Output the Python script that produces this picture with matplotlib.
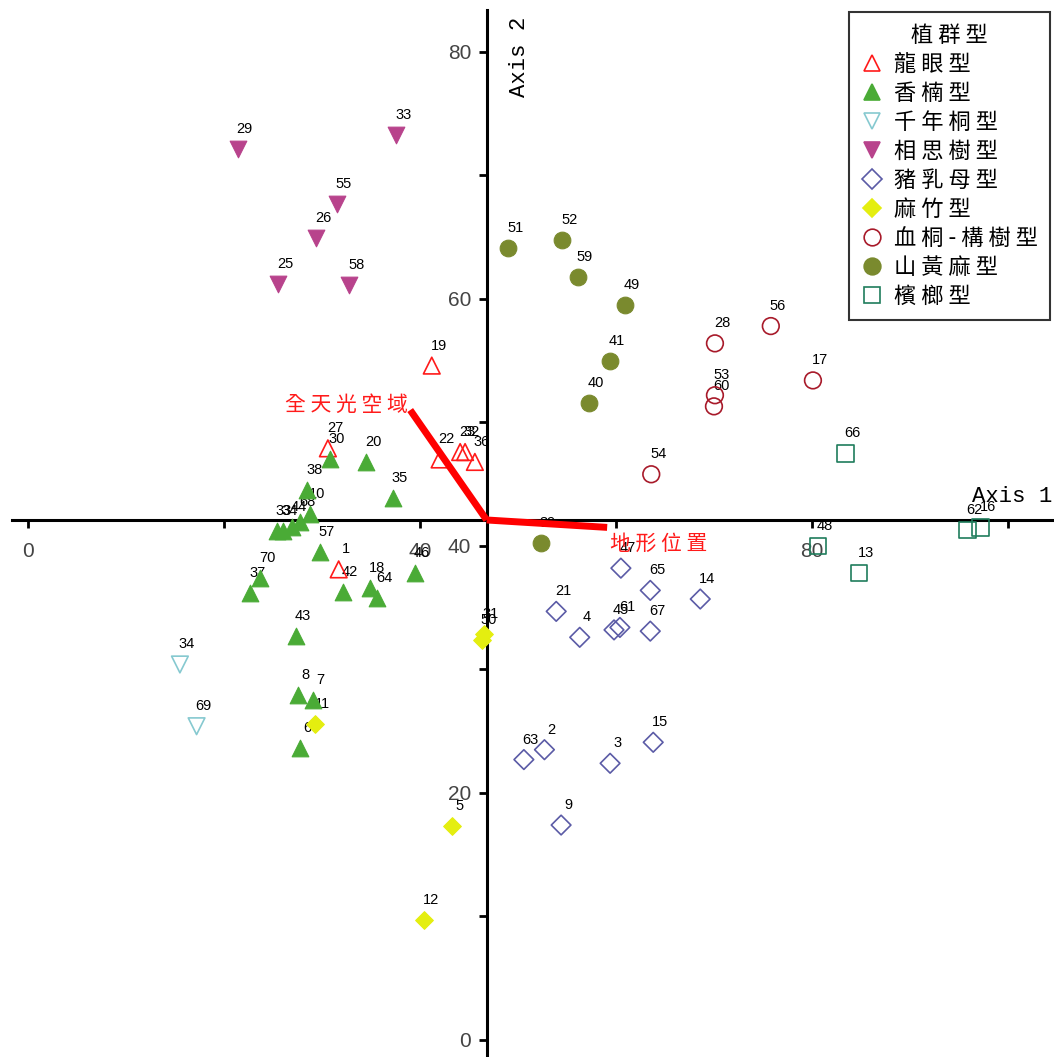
import matplotlib
matplotlib.use('Agg')
import matplotlib.pyplot as plt
from matplotlib.lines import Line2D

plt.rcParams['font.family'] = ['Liberation Sans', 'Noto Sans CJK TC', 'DejaVu Sans']

# ---- ordination scores, one list per vegetation type ----
longan_x = [41.2, 30.6, 42.0, 44.1, 44.6, 45.6, 31.7]
longan_y = [54.6, 47.9, 47.0, 47.6, 47.6, 46.8, 38.1]
longan_id = ['19', '27', '22', '23', '32', '36', '1']

machilus_x = [30.8, 34.5, 28.5, 28.8, 27.8, 25.4, 26.0, 26.9, 37.2, 29.8, 23.7, 22.7,
              32.1, 34.9, 35.6, 39.5, 27.3, 27.6, 29.1, 27.8]
machilus_y = [47.0, 46.8, 44.5, 42.6, 41.9, 41.2, 41.2, 41.5, 43.9, 39.5, 37.4, 36.2,
              36.3, 36.6, 35.8, 37.8, 32.7, 27.9, 27.5, 23.6]
machilus_id = ['30', '20', '38', '10', '68', '33', '34', '44', '35', '57', '70', '37',
               '42', '18', '64', '46', '43', '8', '7', '6']

tung_x = [15.5, 17.2]
tung_y = [30.4, 25.4]
tung_id = ['34', '69']

acacia_x = [21.4, 37.6, 31.5, 29.4, 25.5, 32.8]
acacia_y = [72.1, 73.3, 67.7, 64.9, 61.2, 61.1]
acacia_id = ['29', '33', '55', '26', '25', '58']

ficus_x = [60.5, 63.5, 68.6, 53.9, 56.3, 59.8, 60.4, 63.5, 63.8, 50.6, 52.7, 59.4, 54.4]
ficus_y = [38.2, 36.4, 35.7, 34.7, 32.6, 33.2, 33.4, 33.1, 24.1, 22.7, 23.5, 22.4, 17.4]
ficus_id = ['47', '65', '14', '21', '4', '45', '61', '67', '15', '63', '2', '3', '9']

bamboo_x = [29.3, 46.5, 46.3, 43.3, 40.4]
bamboo_y = [25.6, 32.9, 32.4, 17.3, 9.7]
bamboo_id = ['11', '31', '50', '5', '12']

macaranga_x = [75.8, 70.1, 80.1, 70.1, 70.0, 63.6]
macaranga_y = [57.8, 56.4, 53.4, 52.2, 51.3, 45.8]
macaranga_id = ['56', '28', '17', '53', '60', '54']

trema_x = [49.0, 54.5, 56.1, 60.9, 59.4, 57.2, 52.3]
trema_y = [64.1, 64.8, 61.8, 59.5, 55.0, 51.6, 40.2]
trema_id = ['51', '52', '59', '49', '41', '40', '39']

areca_x = [83.4, 80.6, 84.8, 95.9, 97.2]
areca_y = [47.5, 40.0, 37.8, 41.3, 41.5]
areca_id = ['66', '48', '13', '62', '16']

# environmental vectors (start at the centroid)
centroid = (46.8, 42.1)
vec_names = ['全天光空域', '地形位置']
vec_end_x = [39.0, 59.1]
vec_end_y = [51.0, 41.5]
vec_label_x = [32.5, 64.4]
vec_label_y = [51.4, 40.2]

groups = [
    ('龍眼型', longan_x, longan_y, longan_id, '^', '#ff1a1a', False, 12),
    ('香楠型', machilus_x, machilus_y, machilus_id, '^', '#4aab36', True, 12),
    ('千年桐型', tung_x, tung_y, tung_id, 'v', '#86c9d0', False, 12),
    ('相思樹型', acacia_x, acacia_y, acacia_id, 'v', '#b8438c', True, 12),
    ('豬乳母型', ficus_x, ficus_y, ficus_id, 'D', '#5b5ba6', False, 10),
    ('麻竹型', bamboo_x, bamboo_y, bamboo_id, 'D', '#e4ee10', True, 9),
    ('血桐-構樹型', macaranga_x, macaranga_y, macaranga_id, 'o', '#a81a2a', False, 12),
    ('山黃麻型', trema_x, trema_y, trema_id, 'o', '#7a8a2e', True, 12),
    ('檳榔型', areca_x, areca_y, areca_id, 's', '#1f7d5c', False, 12),
]

cjk = ['Noto Sans CJK TC', 'DejaVu Sans']


def spaced(s):
    # the original chart has wide gaps between the characters
    return ' '.join(s)


fig = plt.figure(figsize=(10.54, 10.57), dpi=100)
ax = fig.add_axes([0, 0, 1, 1])
ax.set_xlim(-2.86, 104.7)
ax.set_ylim(-1.38, 84.2)

# axes cross at the centroid
for s in ['top', 'right']:
    ax.spines[s].set_visible(False)
ax.spines['left'].set_position(('data', centroid[0]))
ax.spines['bottom'].set_position(('data', centroid[1]))
ax.spines['left'].set_bounds(-1.38, 83.4)
ax.spines['bottom'].set_bounds(-1.6, 104.7)
ax.spines['left'].set_linewidth(2.2)
ax.spines['bottom'].set_linewidth(2.2)

ax.set_xticks([0, 20, 40, 60, 80, 100])
ax.set_xticklabels(['0', '', '40', '', '80', ''])
ax.set_yticks(list(range(0, 81, 10)))
ax.set_yticklabels(['0', '', '20', '', '40', '', '60', '', '80'])
ax.tick_params(direction='out', length=6, width=2, labelsize=15, colors='black')
ax.tick_params(axis='x', pad=10)
ax.tick_params(axis='y', pad=5)
for t in ax.get_xticklabels() + ax.get_yticklabels():
    t.set_color('#444444')

handles = []
for name, xs, ys, ids, mk, col, filled, ms in groups:
    if filled:
        ax.scatter(xs, ys, marker=mk, s=ms ** 2, c=col, edgecolors=col, linewidths=0.8, zorder=4)
    else:
        ax.scatter(xs, ys, marker=mk, s=ms ** 2, facecolors='none', edgecolors=col, linewidths=1.2, zorder=4)
    for x, y, lab in zip(xs, ys, ids):
        ax.annotate(lab, (x, y), xytext=(7, 20), textcoords='offset pixels',
                    fontsize=10.5, ha='center', va='center', color='black', zorder=3)
    handles.append(Line2D([], [], linestyle='none', marker=mk, markersize=ms,
                          markerfacecolor=col if filled else 'none',
                          markeredgecolor=col, markeredgewidth=1.2, label=spaced(name)))

# red vectors
for name, ex, ey, lx, ly in zip(vec_names, vec_end_x, vec_end_y, vec_label_x, vec_label_y):
    ax.plot([centroid[0], ex], [centroid[1], ey], color='#ff0000', lw=5,
            solid_capstyle='butt', zorder=5)
    ax.text(lx, ly, spaced(name), color='#ff1a1a', fontsize=15, ha='center', va='center',
            family=cjk, zorder=6)

ax.text(100.4, 44.0, 'Axis 1', fontsize=16, family='Liberation Mono', ha='center', va='center')
ax.text(50.2, 79.6, 'Axis 2', fontsize=16, family='Liberation Mono', rotation=90,
        ha='center', va='center')

leg = ax.legend(handles=handles, title=spaced('植群型'), loc='upper right',
                bbox_to_anchor=(0.996, 0.989), frameon=True, fancybox=False,
                prop={'family': cjk, 'size': 16},
                title_fontproperties={'family': cjk, 'size': 16},
                handlelength=1.0, handletextpad=0.45, labelspacing=0.27,
                borderpad=0.55, borderaxespad=0)
leg.get_frame().set_edgecolor('black')
leg.get_frame().set_linewidth(1.5)
leg.set_zorder(10)

fig.savefig('out.png', dpi=100)
